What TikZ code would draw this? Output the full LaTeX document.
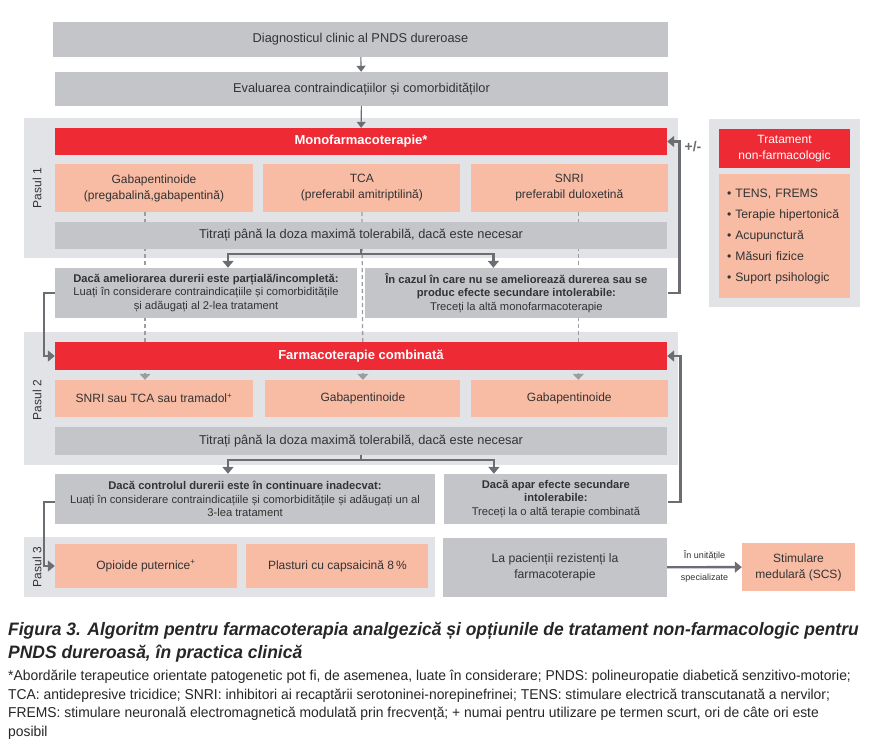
\documentclass[tikz,border=0pt]{standalone}
\usepackage{fontspec}
\setmainfont{Liberation Sans}
\newfontfamily\capfont[FakeStretch=0.97]{Liberation Sans}
\usetikzlibrary{arrows.meta, positioning, calc}

\definecolor{panelgrey}{HTML}{E1E3E7}
\definecolor{boxgrey}{HTML}{C3C5C9}
\definecolor{barred}{HTML}{EE2A35}
\definecolor{salmon}{HTML}{F8BBA4}
\definecolor{linkgrey}{HTML}{6C6D72}
\definecolor{dashgrey}{HTML}{9B9DA2}
\definecolor{txt}{HTML}{333333}

\pgfdeclarelayer{back}
\pgfdeclarelayer{mid}
\pgfsetlayers{back,mid,main}

\tikzset{
  panel/.style    = {fill=panelgrey, draw=none},
  greybox/.style  = {rectangle, fill=boxgrey, text=txt, align=center,
                     inner sep=0pt, font=\fontsize{12.8}{16}\selectfont},
  choice/.style   = {greybox, font=\fontsize{11.2}{13.5}\selectfont},
  redbar/.style   = {rectangle, fill=barred, text=white, align=center,
                     inner sep=0pt, font=\fontsize{13}{15}\selectfont\bfseries},
  drug/.style     = {rectangle, fill=salmon, text=txt, align=center,
                     inner sep=0pt, font=\fontsize{12}{16}\selectfont},
  steplabel/.style= {rotate=90, text=txt, font=\fontsize{12}{14}\selectfont},
  link/.style     = {-{Triangle[length=7pt,width=11pt]}, draw=linkgrey, line width=2.4pt},
  thinlink/.style = {-{Triangle[length=6pt,width=9pt]}, draw=linkgrey, line width=1.1pt},
  dashlink/.style = {-{Triangle[length=6pt,width=11pt]}, draw=dashgrey,
                     line width=1.3pt, dash pattern=on 4pt off 3pt},
}

\begin{document}
\begin{tikzpicture}[x=1pt, y=-1pt]
  \useasboundingbox (0,0) rectangle (876,748);

  % Top – diagnosis and evaluation
  \node[greybox, minimum width=615pt, minimum height=35pt] (diag) at (360.5,39.5) {Diagnosticul clinic al PNDS dureroase};
  \node[greybox, minimum width=613pt, minimum height=34pt] (eval) at (361.5,89) {Evaluarea contraindicațiilor și comorbidităților};

  % Pasul 1 – monofarmacoterapie
  \node[redbar, minimum width=612pt, minimum height=27pt] (mono) at (361,141.5) {Monofarmacoterapie*};
  \node[drug, minimum width=198pt, minimum height=48pt] (gaba1) at (154,188) {Gabapentinoide\\(pregabalină,gabapentină)};
  \node[drug, minimum width=197pt, minimum height=48pt, right=10pt of gaba1] (tca1) {TCA\\(preferabil amitriptilină)};
  \node[drug, minimum width=197pt, minimum height=48pt, right=10pt of tca1] (snri1) {SNRI\\preferabil duloxetină};
  \node[greybox, minimum width=612pt, minimum height=27pt] (titr1) at (361,235.5) {Titrați până la doza maximă tolerabilă, dacă este necesar};
  \node[steplabel] (pas1) at (37,188) {Pasul 1};

  \node[choice, minimum width=302pt, minimum height=50pt] (part1) at (206,293)
    {\textbf{Dacă ameliorarea durerii este parțială/incompletă:}\\Luați în considerare contraindicațiile și comorbiditățile\\și adăugați al 2-lea tratament};
  \node[choice, minimum width=302pt, minimum height=50pt, right=8pt of part1] (ne1)
    {\textbf{În cazul în care nu se ameliorează durerea sau se}\\\textbf{produc efecte secundare intolerabile:}\\Treceți la altă monofarmacoterapie};

  % Tratament non-farmacologic
  \node[redbar, minimum width=131pt, minimum height=39pt, font=\fontsize{12}{16}\selectfont] (nonf) at (784.5,148.5) {Tratament\\non-farmacologic};
  \node[drug, minimum width=131pt, minimum height=124pt, below=6pt of nonf, text width=115pt, align=left,
        font=\fontsize{12.2}{21}\selectfont] (nlist)
    {• TENS, FREMS\\• Terapie hipertonică\\• Acupunctură\\• Măsuri fizice\\• Suport psihologic};
  \node[font=\fontsize{14}{16}\selectfont\bfseries, text=linkgrey] (pm) at (693,147) {+/-};

  % Pasul 2 – farmacoterapie combinata
  \node[redbar, minimum width=612pt, minimum height=28pt] (comb) at (361,356) {Farmacoterapie combinată};
  \node[drug, minimum width=198pt, minimum height=37pt] (snt2) at (154,398.5) {SNRI sau TCA sau tramadol\textsuperscript{+}};
  \node[drug, minimum width=195pt, minimum height=37pt, right=12pt of snt2] (gab2) {Gabapentinoide};
  \node[drug, minimum width=197pt, minimum height=37pt, right=10pt of gab2] (gab3) {Gabapentinoide};
  \node[greybox, minimum width=612pt, minimum height=28pt] (titr2) at (361,441) {Titrați până la doza maximă tolerabilă, dacă este necesar};
  \node[steplabel] (pas2) at (37,400) {Pasul 2};

  \node[choice, minimum width=380pt, minimum height=50pt] (ctrl) at (245,499)
    {\textbf{Dacă controlul durerii este în continuare inadecvat:}\\Luați în considerare contraindicațiile și comorbiditățile și adăugați un al\\3-lea tratament};
  \node[choice, minimum width=223pt, minimum height=50pt, right=9pt of ctrl] (efs)
    {\textbf{Dacă apar efecte secundare}\\\textbf{intolerabile:}\\Treceți la o altă terapie combinată};

  % Pasul 3
  \node[drug, minimum width=182pt, minimum height=44pt] (opi) at (146,566) {Opioide puternice\textsuperscript{+}};
  \node[drug, minimum width=182pt, minimum height=44pt, right=9pt of opi] (pla) {Plasturi cu capsaicină 8\,\%};
  \node[steplabel] (pas3) at (37,567) {Pasul 3};
  \node[greybox, minimum width=224pt, minimum height=59pt, font=\fontsize{12.2}{16}\selectfont] (rez) at (555,567.5) {La pacienții rezistenți la\\farmacoterapie};
  \node[drug, minimum width=113pt, minimum height=48pt] (stim) at (798.5,567) {Stimulare\\medulară (SCS)};

  % Panels behind
  \begin{pgfonlayer}{back}
    \fill[panel] (24,118) rectangle (678,258);
    \fill[panel] (709,119) rectangle (860,307);
    \fill[panel] (24,332) rectangle (678,465);
    \fill[panel] (24,537) rectangle (435,597);
  \end{pgfonlayer}

  % Dashed drug lines
  \begin{pgfonlayer}{mid}
    \draw[dashlink] ([xshift=-9pt]gaba1.south) -- ([xshift=-9pt]snt2.north);
    \draw[dashlink] (tca1.south) -- (gab2.north);
    \draw[dashlink] ([xshift=9pt]snri1.south) -- ([xshift=9pt]gab3.north);
  \end{pgfonlayer}

  % Arrows: top chain
  \draw[thinlink] (diag) -- (eval);
  \draw[thinlink] (eval) -- (mono);

  % Pasul 1 branches
  \coordinate (split1) at ($(titr1.south)+(0,5)$);
  \draw[link, -] (titr1.south) -- (split1);
  \draw[link] (split1) -| ([xshift=22pt]part1.north);
  \draw[link] (split1) -| ([xshift=-23pt]ne1.north);
  \draw[link] (ne1.east) -- ++(12,0) |- (mono.east);
  \draw[link] (part1.west) -- ++(-11,0) |- (comb.west);

  % Pasul 2 branches
  \coordinate (split2) at ($(titr2.south)+(0,5)$);
  \draw[link, -] (titr2.south) -- (split2);
  \draw[link] (split2) -| ([xshift=-17pt]ctrl.north);
  \draw[link] (split2) -| ([xshift=-62pt]efs.north);
  \draw[link] ([yshift=-3pt]efs.east) -- ++(13,0) |- (comb.east);
  \draw[link] ([yshift=-3pt]ctrl.west) -- ++(-11,0) |- (opi.west);

  % Pasul 3 – SCS
  \draw[link] (rez) -- node[above=2pt, font=\fontsize{9}{10}\selectfont, text=txt]{În unitățile}
    node[below=2pt, font=\fontsize{9}{10}\selectfont, text=txt]{specializate} (stim);

  % Caption
  \node[anchor=north west, align=left, text=black!85, inner sep=0pt,
        font=\capfont\fontsize{18}{23}\selectfont\bfseries\itshape] (cap) at (8,622)
    {Figura 3. Algoritm pentru farmacoterapia analgezică și opțiunile de tratament non-farmacologic pentru\\PNDS dureroasă, în practica clinică};
  \node[anchor=north west, align=left, text=black!85, inner sep=0pt,
        font=\capfont\fontsize{14.3}{18.5}\selectfont] (note) at (8,670)
    {*Abordările terapeutice orientate patogenetic pot fi, de asemenea, luate în considerare; PNDS: polineuropatie diabetică senzitivo-motorie;\\
     TCA: antidepresive tricidice; SNRI: inhibitori ai recaptării serotoninei-norepinefrinei; TENS: stimulare electrică transcutanată a nervilor;\\
     FREMS: stimulare neuronală electromagnetică modulată prin frecvență; + numai pentru utilizare pe termen scurt, ori de câte ori este\\
     posibil};
\end{tikzpicture}
\end{document}
